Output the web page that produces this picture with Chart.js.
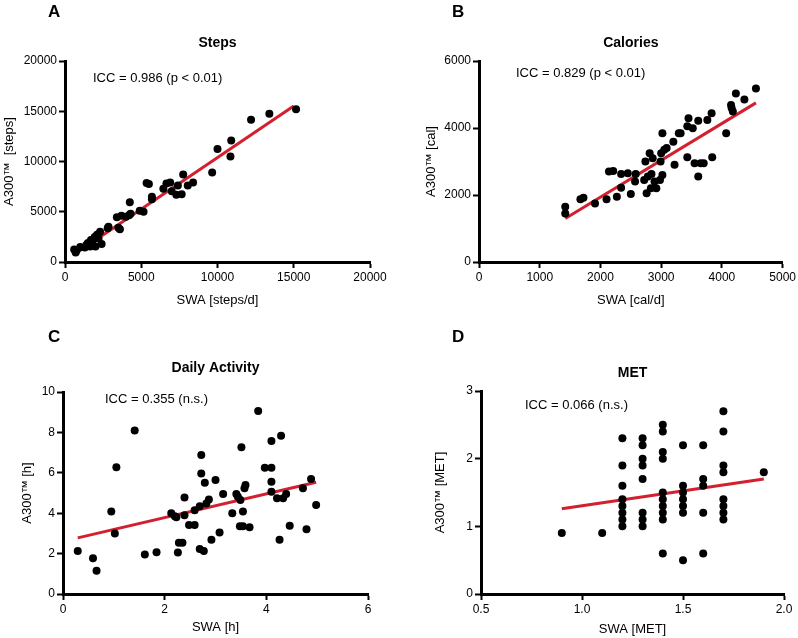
<!DOCTYPE html>
<html><head><meta charset="utf-8">
<script src="https://cdn.jsdelivr.net/npm/chart.js@4/dist/chart.umd.min.js"></script>
<style>
html,body{margin:0;padding:0;background:#fff;}
#wrap{position:relative;width:798px;height:638px;overflow:hidden;background:#fff;}
canvas{position:absolute;}
</style></head><body>
<div id="wrap">
<canvas id="cA" width="399" height="319" style="left:0;top:0"></canvas>
<canvas id="cB" width="399" height="319" style="left:399px;top:0"></canvas>
<canvas id="cC" width="399" height="319" style="left:0;top:319px"></canvas>
<canvas id="cD" width="399" height="319" style="left:399px;top:319px"></canvas>
</div>
<script>
// ---- Panel A: Steps ----
const stepsSWA  = [600, 700, 750, 1000, 1300, 1400, 1500, 1650, 1700, 1800, 1950, 2000, 2100, 2200, 2300, 2400, 2800, 2850, 3400, 3500, 3600, 3700, 4000, 4200, 4250, 4300, 4900, 5150, 5350, 5500, 5700, 5700, 6450, 6650, 6900, 7000, 7300, 7400, 7650, 7750, 8050, 8400, 9650, 10000, 10850, 10900, 12200, 13400, 15150];
const stepsA300 = [1250, 950, 1150, 1500, 1450, 1700, 1900, 1550, 2200, 2100, 2500, 1550, 2700, 2350, 3000, 1800, 3350, 3500, 4450, 3400, 3250, 4600, 4500, 4650, 5950, 4800, 5100, 5000, 7850, 7750, 6500, 6250, 7300, 7800, 7900, 7050, 6700, 7600, 6750, 8700, 7600, 7900, 8900, 11250, 10500, 12100, 14150, 14750, 15200];
const stepsFitX = [600, 15000];
const stepsFitY = [755, 15515];
const stepsTicks = [0, 5000, 10000, 15000, 20000];

// ---- Panel B: Calories ----
const calSWA  = [1420, 1420, 1670, 1720, 1910, 2100, 2140, 2210, 2270, 2340, 2340, 2450, 2500, 2580, 2570, 2720, 2740, 2760, 2780, 2810, 2840, 2830, 2860, 2890, 2920, 2980, 2990, 3000, 3020, 3020, 3050, 3090, 3200, 3220, 3290, 3320, 3430, 3430, 3450, 3520, 3550, 3610, 3610, 3650, 3700, 3760, 3830, 3840, 4070, 4150, 4160, 4180, 4230, 4370, 4560];
const calA300 = [1650, 1450, 1870, 1920, 1750, 1870, 2700, 2720, 1950, 2630, 2220, 2650, 2030, 2630, 2400, 2450, 3000, 2050, 2550, 3250, 2630, 2200, 3100, 2400, 2200, 2450, 3000, 3250, 3840, 2600, 3350, 3400, 3590, 2900, 3840, 3840, 3130, 4050, 4290, 3990, 2950, 4220, 2550, 2950, 2950, 4240, 4440, 3130, 3840, 4690, 4600, 4490, 5030, 4850, 5180];
const calFitX = [1420, 4560];
const calFitY = [1300, 4750];
const calXTicks = [0, 1000, 2000, 3000, 4000, 5000];
const calYTicks = [0, 2000, 4000, 6000];

// ---- Panel C: Daily Activity ----
const actSWA  = [0.29, 0.59, 0.66, 0.95, 1.02, 1.05, 1.41, 1.61, 1.84, 2.13, 2.20, 2.23, 2.26, 2.28, 2.35, 2.39, 2.39, 2.48, 2.59, 2.59, 2.69, 2.69, 2.72, 2.72, 2.77, 2.79, 2.82, 2.87, 2.92, 3.00, 3.08, 3.15, 3.33, 3.41, 3.44, 3.49, 3.51, 3.48, 3.54, 3.54, 3.57, 3.59, 3.67, 3.84, 3.97, 4.10, 4.10, 4.10, 4.10, 4.21, 4.26, 4.29, 4.33, 4.39, 4.46, 4.72, 4.79, 4.88, 4.98];
const actA300 = [2.13, 1.77, 1.15, 4.08, 3.0, 6.27, 8.09, 1.96, 2.07, 4.0, 3.85, 3.80, 2.05, 2.54, 2.54, 4.78, 3.9, 3.42, 3.42, 4.15, 4.35, 2.23, 5.97, 6.88, 2.13, 5.51, 4.48, 4.68, 2.68, 5.64, 3.05, 4.95, 4.0, 4.95, 4.82, 4.65, 7.26, 3.36, 3.36, 4.08, 5.23, 5.40, 3.30, 9.06, 6.25, 6.25, 7.57, 5.56, 5.06, 4.74, 2.68, 7.84, 4.74, 4.95, 3.38, 5.23, 3.20, 5.69, 4.40];
const actFitX = [0.29, 4.98];
const actFitY = [2.78, 5.53];
const actXTicks = [0, 2, 4, 6];
const actYTicks = [0, 2, 4, 6, 8, 10];

// ---- Panel D: MET ----
const metSWA  = [0.9, 1.1,
  1.2, 1.2, 1.2, 1.2, 1.2, 1.2, 1.2, 1.2,
  1.3, 1.3, 1.3, 1.3, 1.3, 1.3, 1.3, 1.3,
  1.4, 1.4, 1.4, 1.4, 1.4, 1.4, 1.4, 1.4, 1.4, 1.4,
  1.5, 1.5, 1.5, 1.5, 1.5, 1.5, 1.5,
  1.6, 1.6, 1.6, 1.6, 1.6,
  1.7, 1.7, 1.7, 1.7, 1.7, 1.7, 1.7, 1.7,
  1.9];
const metA300 = [0.9, 0.9,
  2.3, 1.9, 1.6, 1.4, 1.3, 1.2, 1.1, 1.0,
  2.3, 2.2, 2.0, 1.9, 1.7, 1.2, 1.1, 1.0,
  2.5, 2.4, 2.1, 2.0, 1.5, 1.4, 1.3, 1.2, 1.1, 0.6,
  2.2, 1.6, 1.5, 1.4, 1.3, 1.2, 0.5,
  2.2, 1.7, 1.6, 1.2, 0.6,
  2.7, 2.4, 1.9, 1.8, 1.4, 1.3, 1.2, 1.1,
  1.8];
const metFitX = [0.9, 1.9];
const metFitY = [1.26, 1.70];
const metXTicks = [0.5, 1.0, 1.5, 2.0];
const metYTicks = [0, 1, 2, 3];

const FONT = "'Liberation Sans', Arial, Helvetica, sans-serif";
const RED = '#D2202F';
Chart.defaults.font.family = FONT;
Chart.defaults.color = '#000';

const annot = {
  id: 'annot',
  afterDraw(chart, args, o) {
    const ctx = chart.ctx, ca = chart.chartArea;
    ctx.save();
    ctx.fillStyle = '#000';
    ctx.textBaseline = 'middle';
    ctx.font = 'bold 17px ' + FONT; ctx.textAlign = 'left';
    ctx.fillText(o.letter, o.letterX, o.letterY);
    ctx.font = 'bold 14px ' + FONT; ctx.textAlign = 'center';
    ctx.fillText(o.title, (ca.left + ca.right) / 2, o.titleY);
    ctx.font = '13px ' + FONT; ctx.textAlign = 'left';
    ctx.fillText(o.icc, o.iccX, o.iccY);
    ctx.restore();
  }
};

function axisCommon(ticksArr, fmt) {
  return {
    type: 'linear',
    min: ticksArr[0], max: ticksArr[ticksArr.length - 1],
    afterBuildTicks(ax) { ax.ticks = ticksArr.map(v => ({ value: v })); },
    ticks: { font: { size: 12 }, color: '#000', padding: 2, maxRotation: 0, autoSkip: false, callback: fmt },
    grid: { drawOnChartArea: false, drawTicks: true, tickLength: 6, tickWidth: 2, tickColor: '#000' },
    border: { display: true, color: '#000', width: 3 }
  };
}

function makePanel(id, p) {
  const xs = axisCommon(p.xt, p.xfmt || (v => String(v)));
  xs.position = 'bottom';
  xs.afterFit = ax => { ax.height = p.xH; };
  xs.title = { display: true, text: p.xTitle, font: { size: 13 }, color: '#000', padding: { top: 0, bottom: p.xTitlePad } };
  const ys = axisCommon(p.yt, v => String(v));
  ys.position = 'left';
  ys.afterFit = ax => { ax.width = p.yW; };
  ys.title = { display: true, text: p.yTitle, font: { size: 13 }, color: '#000', padding: { top: p.yTitlePad, bottom: 0 } };
  new Chart(document.getElementById(id), {
    type: 'scatter',
    data: {
      datasets: [
        { data: p.x.map((v, i) => ({ x: v, y: p.y[i] })), backgroundColor: '#000', borderColor: '#000',
          borderWidth: 0, pointRadius: 4, pointHoverRadius: 4, order: 1, clip: false },
        { type: 'line', data: p.fx.map((v, i) => ({ x: v, y: p.fy[i] })), borderColor: RED, borderWidth: 3,
          pointRadius: 0, fill: false, order: 2, clip: false }
      ]
    },
    options: {
      responsive: false, animation: false, devicePixelRatio: 1,
      layout: { padding: { left: 0, top: p.top, right: p.right, bottom: 0 } },
      plugins: { legend: { display: false }, tooltip: { enabled: false }, annot: p.annot },
      scales: { x: xs, y: ys }
    },
    plugins: [annot]
  });
}

makePanel('cA', {
  x: stepsSWA, y: stepsA300, fx: stepsFitX, fy: stepsFitY, xt: stepsTicks, yt: stepsTicks,
  top: 61, right: 29, yW: 65, xH: 57, xTitle: 'SWA [steps/d]', yTitle: 'A300™  [steps]',
  xTitlePad: 11, yTitlePad: 1.5,
  annot: { letter: 'A', letterX: 48, letterY: 12, title: 'Steps', titleY: 43, icc: 'ICC = 0.986 (p < 0.01)', iccX: 93, iccY: 78 }
});
makePanel('cB', {
  x: calSWA, y: calA300, fx: calFitX, fy: calFitY, xt: calXTicks, yt: calYTicks,
  top: 61, right: 14, yW: 80, xH: 57, xTitle: 'SWA [cal/d]', yTitle: 'A300™ [cal]',
  xTitlePad: 11, yTitlePad: 25,
  annot: { letter: 'B', letterX: 53, letterY: 12, title: 'Calories', titleY: 43, icc: 'ICC = 0.829 (p < 0.01)', iccX: 117, iccY: 73 }
});
makePanel('cC', {
  x: actSWA, y: actA300, fx: actFitX, fy: actFitY, xt: actXTicks, yt: actYTicks,
  top: 73, right: 31, yW: 63, xH: 44, xTitle: 'SWA [h]', yTitle: 'A300™ [h]',
  xTitlePad: 3, yTitlePad: 20,
  annot: { letter: 'C', letterX: 48, letterY: 18, title: 'Daily Activity', titleY: 49, icc: 'ICC = 0.355 (n.s.)', iccX: 105, iccY: 80 }
});
makePanel('cD', {
  x: metSWA, y: metA300, fx: metFitX, fy: metFitY, xt: metXTicks, yt: metYTicks,
  xfmt: v => Number(v).toFixed(1),
  top: 72, right: 14, yW: 82, xH: 44, xTitle: 'SWA [MET]', yTitle: 'A300™ [MET]',
  xTitlePad: 1, yTitlePad: 34,
  annot: { letter: 'D', letterX: 53, letterY: 18, title: 'MET', titleY: 54, icc: 'ICC = 0.066 (n.s.)', iccX: 126, iccY: 86 }
});
</script>
</body></html>
